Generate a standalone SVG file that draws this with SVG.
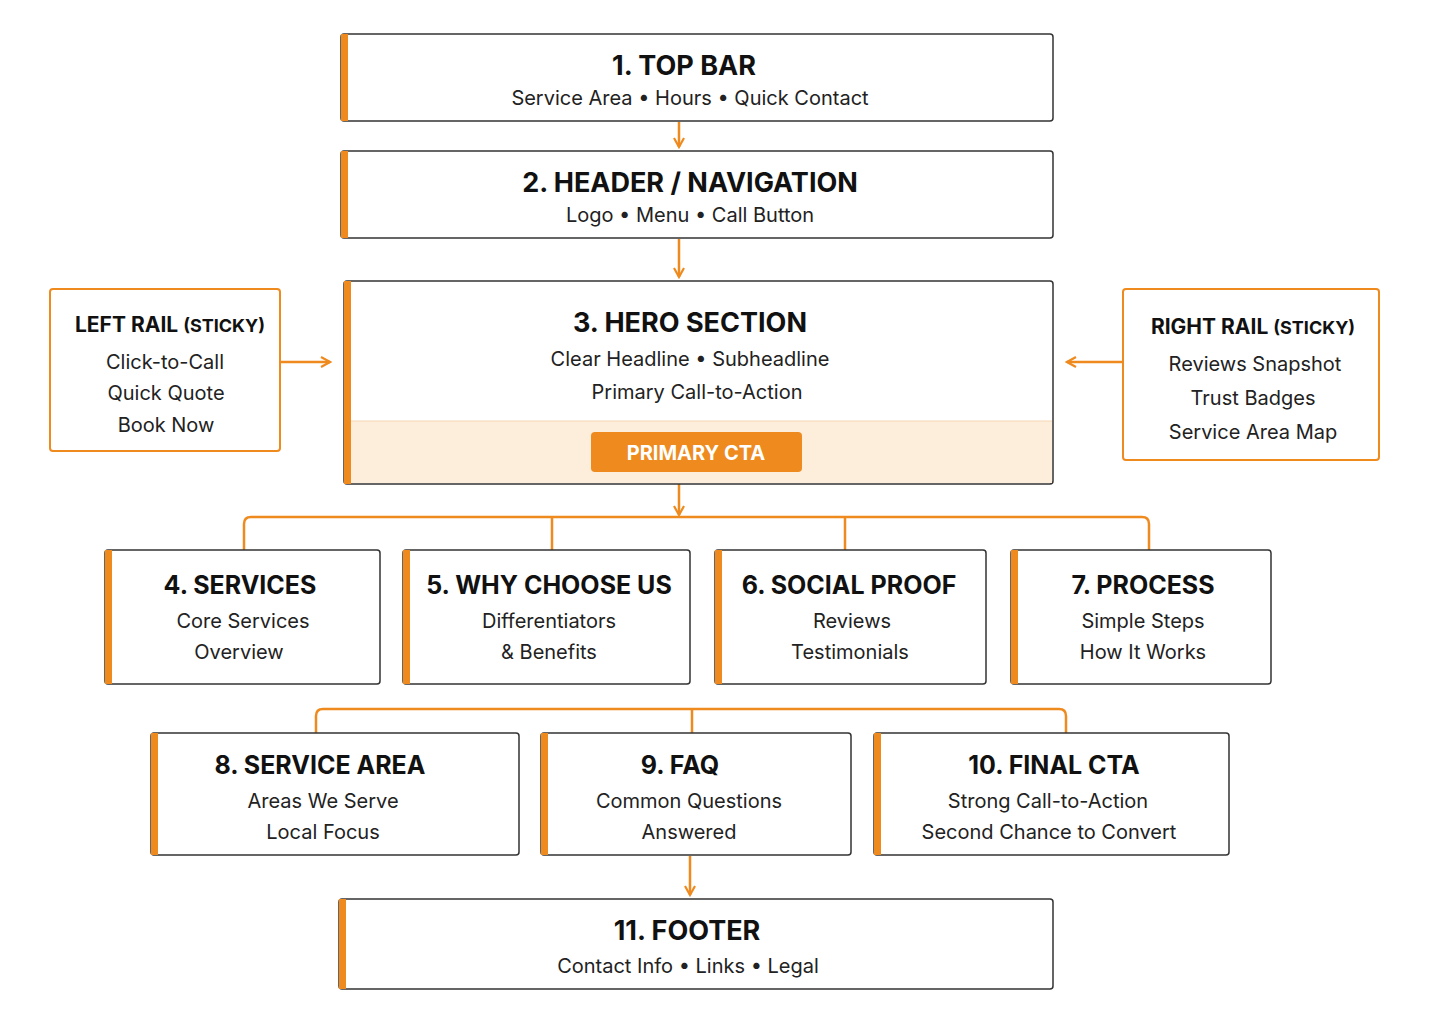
<svg xmlns="http://www.w3.org/2000/svg" width="1429" height="1023" viewBox="0 0 1429 1023">
<style>
.box{fill:#fff;stroke:#333;stroke-width:1.5}
.bar{fill:#EE8A1E}
.rail{fill:#fff;stroke:#EE8A1E;stroke-width:2}
.t{font-family:"Inter","Noto Sans",sans-serif;font-weight:700;fill:#111;text-anchor:middle}
.s{font-family:"Inter","Noto Sans",sans-serif;fill:#222;text-anchor:middle;font-size:20px}
.c{fill:none;stroke:#EE8A1E;stroke-width:2.5}
</style>
<defs>
<marker id="a" viewBox="0 0 12 12" refX="10" refY="6" markerWidth="12" markerHeight="12" markerUnits="userSpaceOnUse" orient="auto"><path d="M1 1L10 6L1 11" fill="none" stroke="#EE8A1E" stroke-width="2.2"/></marker>
</defs>
<rect width="1429" height="1023" fill="#fff"/>
<g id="connectors">
<path class="c" d="M679 122V147" marker-end="url(#a)"/>
<path class="c" d="M679 239V277" marker-end="url(#a)"/>
<path class="c" d="M281 362H330" marker-end="url(#a)"/>
<path class="c" d="M1123 362H1067" marker-end="url(#a)"/>
<path class="c" d="M679 484V515" marker-end="url(#a)"/>
<path class="c" d="M244 550V524Q244 517 251 517H1142Q1149 517 1149 524V550M552 517V550M845 517V550"/>
<path class="c" d="M316 733V716Q316 709 323 709H1059Q1066 709 1066 716V733M692 709V733"/>
<path class="c" d="M690 856V895" marker-end="url(#a)"/>
</g>
<g id="n1"><rect class="box" x="341" y="34" width="712" height="87" rx="3"/><rect class="bar" x="341" y="34" width="7" height="87"/>
<text class="t" x="684" y="75" font-size="27">1. TOP BAR</text><text class="s" x="690" y="105">Service Area • Hours • Quick Contact</text></g>
<g id="n2"><rect class="box" x="341" y="151" width="712" height="87" rx="3"/><rect class="bar" x="341" y="151" width="7" height="87"/>
<text class="t" x="690" y="192" font-size="27">2. HEADER / NAVIGATION</text><text class="s" x="690" y="222">Logo • Menu • Call Button</text></g>
<g id="n3"><rect class="box" x="344" y="281" width="709" height="203" rx="3"/><rect x="351" y="421" width="701" height="62" fill="#FDEEDC"/><line x1="351" y1="421" x2="1052" y2="421" stroke="#F5D6B2"/><rect class="bar" x="344" y="281" width="7" height="203"/>
<text class="t" x="690" y="332" font-size="27">3. HERO SECTION</text><text class="s" x="690" y="366">Clear Headline • Subheadline</text><text class="s" x="697" y="399">Primary Call-to-Action</text>
<rect x="591" y="432" width="211" height="40" rx="4" fill="#EE8A1E"/><text class="t" x="696" y="460" font-size="20" style="fill:#fff">PRIMARY CTA</text></g>
<g id="left"><rect class="rail" x="50" y="289" width="230" height="162" rx="3"/>
<text class="t" x="170" y="332" font-size="21">LEFT RAIL <tspan font-size="18">(STICKY)</tspan></text>
<text class="s" x="165" y="369">Click-to-Call</text><text class="s" x="166" y="400">Quick Quote</text><text class="s" x="166" y="432">Book Now</text></g>
<g id="right"><rect class="rail" x="1123" y="289" width="256" height="171" rx="3"/>
<text class="t" x="1253" y="334" font-size="21">RIGHT RAIL <tspan font-size="18">(STICKY)</tspan></text>
<text class="s" x="1255" y="371">Reviews Snapshot</text><text class="s" x="1253" y="405">Trust Badges</text><text class="s" x="1253" y="439">Service Area Map</text></g>
<g id="n4"><rect class="box" x="105" y="550" width="275" height="134" rx="3"/><rect class="bar" x="105" y="550" width="7" height="134"/>
<text class="t" x="240" y="594" font-size="25">4. SERVICES</text><text class="s" x="243" y="628">Core Services</text><text class="s" x="239" y="659">Overview</text></g>
<g id="n5"><rect class="box" x="403" y="550" width="287" height="134" rx="3"/><rect class="bar" x="403" y="550" width="7" height="134"/>
<text class="t" x="549" y="594" font-size="25">5. WHY CHOOSE US</text><text class="s" x="549" y="628">Differentiators</text><text class="s" x="549" y="659">&amp; Benefits</text></g>
<g id="n6"><rect class="box" x="715" y="550" width="271" height="134" rx="3"/><rect class="bar" x="715" y="550" width="7" height="134"/>
<text class="t" x="849" y="594" font-size="25">6. SOCIAL PROOF</text><text class="s" x="852" y="628">Reviews</text><text class="s" x="850" y="659">Testimonials</text></g>
<g id="n7"><rect class="box" x="1011" y="550" width="260" height="134" rx="3"/><rect class="bar" x="1011" y="550" width="7" height="134"/>
<text class="t" x="1143" y="594" font-size="25">7. PROCESS</text><text class="s" x="1143" y="628">Simple Steps</text><text class="s" x="1143" y="659">How It Works</text></g>
<g id="n8"><rect class="box" x="151" y="733" width="368" height="122" rx="3"/><rect class="bar" x="151" y="733" width="7" height="122"/>
<text class="t" x="320" y="774" font-size="25">8. SERVICE AREA</text><text class="s" x="323" y="808">Areas We Serve</text><text class="s" x="323" y="839">Local Focus</text></g>
<g id="n9"><rect class="box" x="541" y="733" width="310" height="122" rx="3"/><rect class="bar" x="541" y="733" width="7" height="122"/>
<text class="t" x="680" y="774" font-size="25">9. FAQ</text><text class="s" x="689" y="808">Common Questions</text><text class="s" x="689" y="839">Answered</text></g>
<g id="n10"><rect class="box" x="874" y="733" width="355" height="122" rx="3"/><rect class="bar" x="874" y="733" width="7" height="122"/>
<text class="t" x="1054" y="774" font-size="25">10. FINAL CTA</text><text class="s" x="1048" y="808">Strong Call-to-Action</text><text class="s" x="1049" y="839">Second Chance to Convert</text></g>
<g id="n11"><rect class="box" x="339" y="899" width="714" height="90" rx="3"/><rect class="bar" x="339" y="899" width="7" height="90"/>
<text class="t" x="687" y="940" font-size="27">11. FOOTER</text><text class="s" x="688" y="973">Contact Info • Links • Legal</text></g>
</svg>
